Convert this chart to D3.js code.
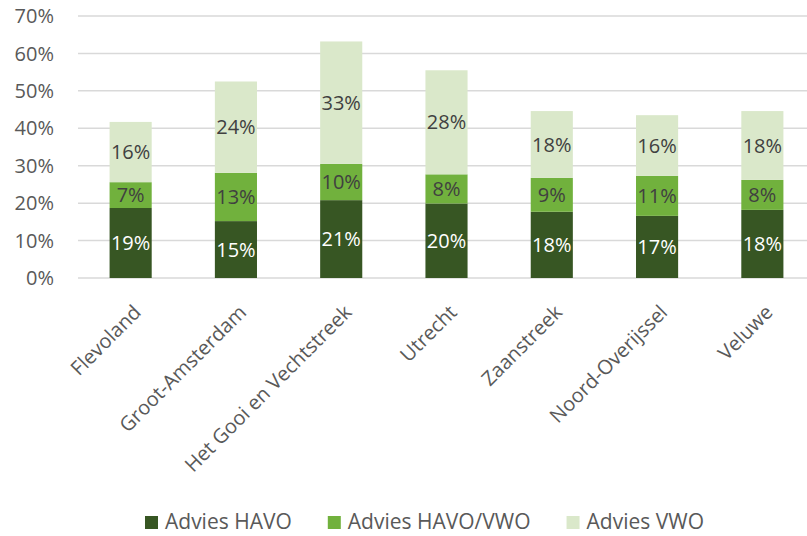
<!DOCTYPE html>
<html>
<head>
<meta charset="utf-8">
<script src="https://cdn.jsdelivr.net/npm/d3@7"></script>
<style>
  body { margin: 0; background: #fff; }
  svg { display: block; font-family: "Open Sans", sans-serif; }
</style>
</head>
<body>
<div id="chart"></div>
<script>
// data (percentages)
const regions = ['Flevoland', 'Groot-Amsterdam', 'Het Gooi en Vechtstreek', 'Utrecht', 'Zaanstreek', 'Noord-Overijssel', 'Veluwe'];
const seriesNames = ['Advies HAVO', 'Advies HAVO/VWO', 'Advies VWO'];
const havo = [18.7, 15.2, 20.8, 19.9, 17.7, 16.6, 18.2];
const havoVwo = [6.9, 12.9, 9.7, 7.8, 9.05, 10.7, 8.0];
const vwo = [16.1, 24.4, 32.7, 27.8, 17.85, 16.2, 18.4];
const yTicks = [0, 10, 20, 30, 40, 50, 60, 70];

const colors = ['#375623', '#71B13D', '#DAE8CA'];
const labelColors = ['#ffffff', '#404040', '#404040'];

const width = 807, height = 536;
const margin = { top: 16, right: -8, bottom: 258, left: 78 };

const rows = regions.map((r, i) => ({ region: r, 'Advies HAVO': havo[i], 'Advies HAVO/VWO': havoVwo[i], 'Advies VWO': vwo[i] }));
const stacked = d3.stack().keys(seriesNames)(rows);

const svg = d3.select('#chart').append('svg')
    .attr('width', width)
    .attr('height', height);

const x = d3.scaleBand()
    .domain(regions)
    .range([margin.left, width - margin.right])
    .paddingInner(0.6)
    .paddingOuter(0.3);

const y = d3.scaleLinear()
    .domain([0, 70])
    .range([height - margin.bottom, margin.top]);

// gridlines
svg.append('g')
    .selectAll('line')
    .data(yTicks)
    .enter().append('line')
    .attr('x1', margin.left)
    .attr('x2', width - margin.right)
    .attr('y1', d => y(d))
    .attr('y2', d => y(d))
    .attr('stroke', '#d9d9d9')
    .attr('stroke-width', 1.5);

// y tick labels
svg.append('g')
    .selectAll('text')
    .data(yTicks)
    .enter().append('text')
    .attr('x', 54)
    .attr('y', d => y(d))
    .attr('dy', '0.36em')
    .attr('text-anchor', 'end')
    .attr('font-size', 20)
    .attr('fill', '#595959')
    .text(d => d + '%');

// bars
const layers = svg.append('g')
    .selectAll('g')
    .data(stacked)
    .enter().append('g')
    .attr('fill', (d, i) => colors[i]);

layers.selectAll('rect')
    .data(d => d)
    .enter().append('rect')
    .attr('x', d => x(d.data.region))
    .attr('y', d => y(d[1]))
    .attr('width', x.bandwidth())
    .attr('height', d => y(d[0]) - y(d[1]));

// value labels
stacked.forEach((layer, li) => {
    svg.append('g')
        .selectAll('text')
        .data(layer)
        .enter().append('text')
        .attr('x', d => x(d.data.region) + x.bandwidth() / 2)
        .attr('y', d => (y(d[0]) + y(d[1])) / 2)
        .attr('dy', '0.36em')
        .attr('text-anchor', 'middle')
        .attr('font-size', 20)
        .attr('fill', labelColors[li])
        .text(d => Math.round(d[1] - d[0]) + '%');
});

// x labels, rotated
svg.append('g')
    .selectAll('text')
    .data(regions)
    .enter().append('text')
    .attr('transform', d => `translate(${x(d) + x.bandwidth() / 2 + 1},303) rotate(-45)`)
    .attr('dy', '0.75em')
    .attr('text-anchor', 'end')
    .attr('font-size', 20)
    .attr('fill', '#595959')
    .text(d => d);

// legend
const legend = svg.append('g');
let lx = 145;
seriesNames.forEach((name, i) => {
    legend.append('rect')
        .attr('x', lx)
        .attr('y', 516)
        .attr('width', 13)
        .attr('height', 13)
        .attr('fill', colors[i]);
    const t = legend.append('text')
        .attr('x', lx + 20)
        .attr('y', 529)
        .attr('font-size', 21)
        .attr('fill', '#595959')
        .text(name);
    lx += 20 + t.node().getComputedTextLength() + 36;
});
</script>
</body>
</html>
